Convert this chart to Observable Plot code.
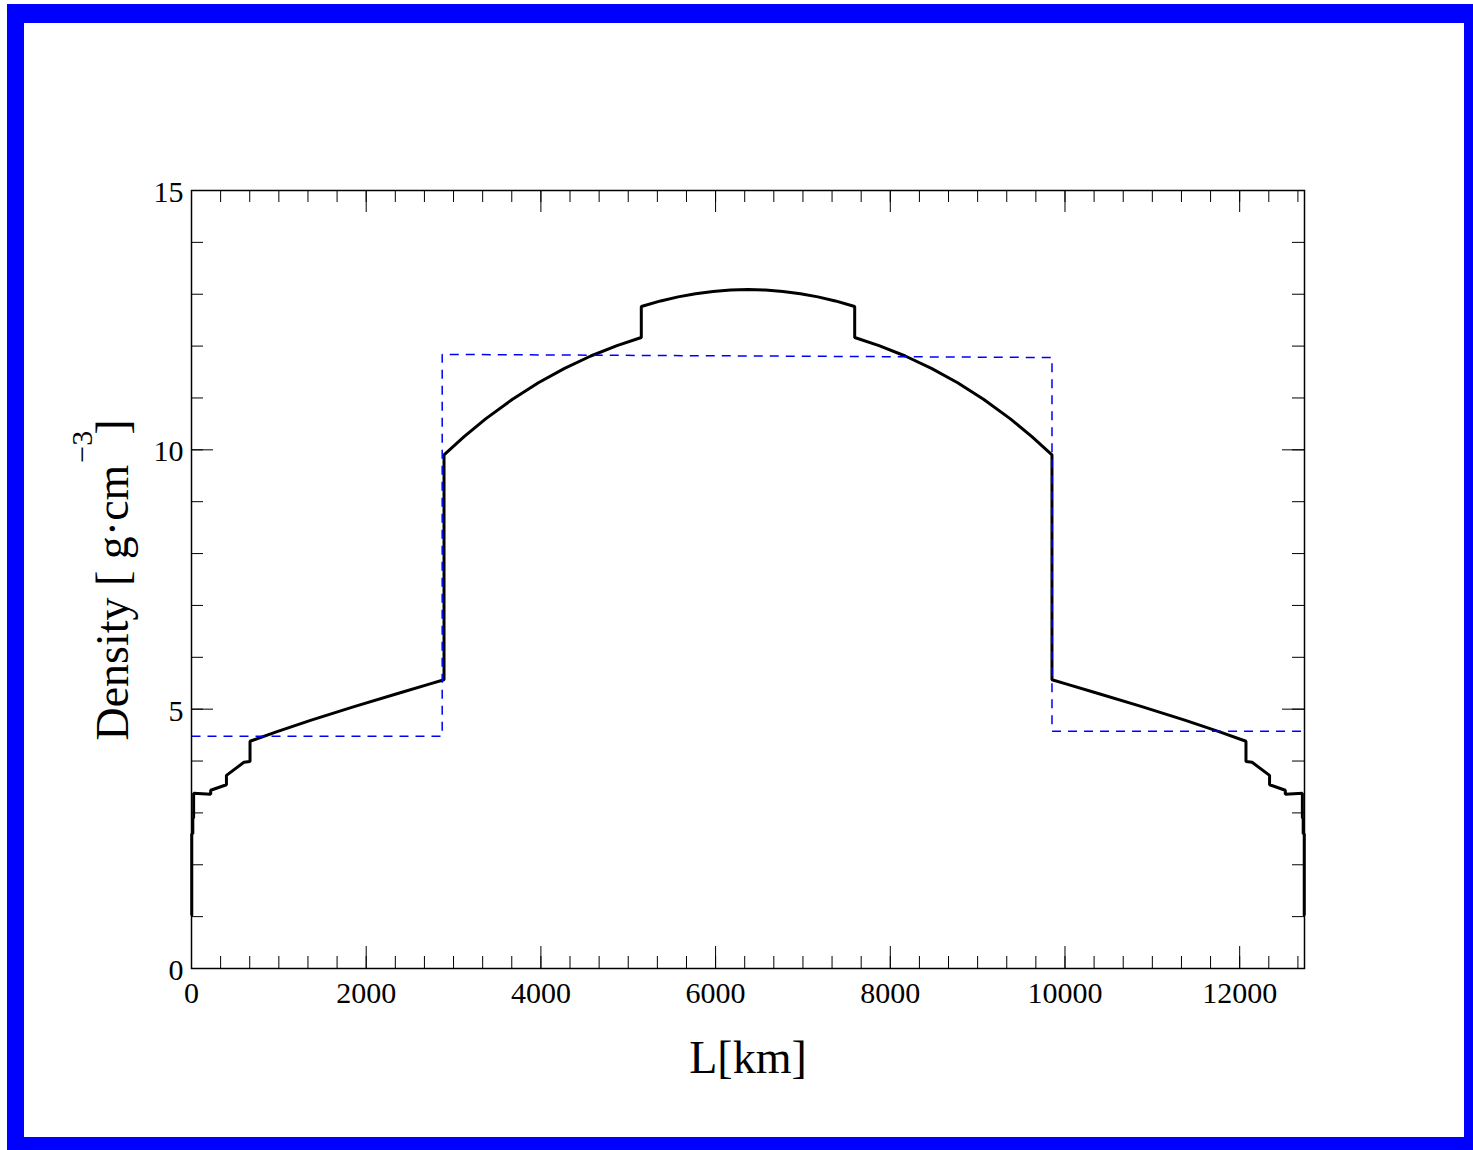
<!DOCTYPE html>
<html><head><meta charset="utf-8">
<script src="https://cdn.jsdelivr.net/npm/d3@7"></script>
<script src="https://cdn.jsdelivr.net/npm/@observablehq/plot@0.6"></script>
<style>
body{margin:0;background:#fff;}
#wrap{position:relative;width:1473px;height:1150px;overflow:hidden;background:#fff;}
#border{position:absolute;left:7px;top:4px;width:1466px;height:1146px;box-sizing:border-box;border-style:solid;border-color:#0000ff;border-width:19px 9px 13px 17px;pointer-events:none;}
#chart{position:absolute;left:0;top:0;}
</style></head><body>
<div id="wrap"><div id="chart"></div><div id="border"></div></div>
<script>
// PREM-like density along an Earth diameter (L in km, density in g/cm^3)
const premL = [0,3,3,15,15,24.4,24.4,220,220,400,400,600,670,670,971,1371,1871,2371,2741,2891,2891,3121,3371,3671,3971,4271,4571,4871,5149.5,5149.5,5371,5571,5771,5971,6171,6371,6571,6771,6971,7171,7371,7592.5,7592.5,7871,8171,8471,8771,9071,9371,9621,9851,9851,10001,10371,10871,11371,11771,12072,12072,12142,12342,12342,12522,12522,12717.6,12717.6,12727,12727,12739,12739,12742];
const premDensity = [1.02,1.02,2.6,2.6,2.9,2.9,3.381,3.360,3.436,3.543,3.724,3.976,3.992,4.381,4.563,4.790,5.055,5.307,5.492,5.567,9.904,10.255,10.602,10.971,11.293,11.571,11.809,12.010,12.166,12.764,12.871,12.949,13.010,13.054,13.080,13.089,13.080,13.054,13.010,12.949,12.871,12.764,12.166,12.010,11.809,11.571,11.293,10.971,10.602,10.255,9.904,5.567,5.492,5.307,5.055,4.790,4.563,4.381,3.992,3.976,3.724,3.543,3.436,3.360,3.381,2.9,2.9,2.6,2.6,1.02,1.02];
// averaged (dashed blue) profile
const avgL = [0,2870,2870,9851,9851,12742];
const avgDensity = [4.48,4.48,11.84,11.78,4.575,4.575];
// ticks
const xTickLabels = [0,2000,4000,6000,8000,10000,12000];
const yTickLabels = [0,5,10,15];
const xMinor = d3.range(0, 12742, 2000/6);
const yMinor = d3.range(0, 15.01, 1);

const W = 1473, H = 1150, mL = 191, mR = 169, mT = 190, mB = 182;
const pw = W - mL - mR, ph = H - mT - mB;
const premIdx = d3.range(premL.length);
const avgIdx = d3.range(avgL.length);

const chart = Plot.plot({
  width: W, height: H,
  marginLeft: mL, marginRight: mR, marginTop: mT, marginBottom: mB,
  style: {fontFamily: "'Liberation Serif','Times New Roman',serif", fontSize: "30px", color: "black", background: "transparent"},
  x: {domain: [0, 12742]},
  y: {domain: [0, 15]},
  marks: [
    // inward ticks
    Plot.tickX(xMinor, {x: d => d, insetTop: ph - 12, stroke: "black", strokeWidth: 1}),
    Plot.tickX(xMinor, {x: d => d, insetBottom: ph - 12, stroke: "black", strokeWidth: 1}),
    Plot.tickX(xTickLabels, {x: d => d, insetTop: ph - 22, stroke: "black", strokeWidth: 1}),
    Plot.tickX(xTickLabels, {x: d => d, insetBottom: ph - 22, stroke: "black", strokeWidth: 1}),
    Plot.tickY(yMinor, {y: d => d, insetRight: pw - 12, stroke: "black", strokeWidth: 1}),
    Plot.tickY(yMinor, {y: d => d, insetLeft: pw - 12, stroke: "black", strokeWidth: 1}),
    Plot.tickY(yTickLabels, {y: d => d, insetRight: pw - 22, stroke: "black", strokeWidth: 1}),
    Plot.tickY(yTickLabels, {y: d => d, insetLeft: pw - 22, stroke: "black", strokeWidth: 1}),
    Plot.axisX(xTickLabels, {tickSize: 0, tickPadding: 13, tickFormat: d3.format("d"), label: null}),
    Plot.axisY(yTickLabels, {tickSize: 0, tickPadding: 8, dy: 2, tickFormat: d3.format("d"), label: null}),
    Plot.line(premIdx, {x: i => premL[i], y: i => premDensity[i], stroke: "black", strokeWidth: 3, strokeLinejoin: "miter", strokeLinecap: "butt"}),
    Plot.line(avgIdx, {x: i => avgL[i], y: i => avgDensity[i], stroke: "#0000ff", strokeWidth: 1.5, strokeDasharray: "9,7", strokeLinejoin: "miter", strokeLinecap: "butt"}),
    Plot.frame({stroke: "black", strokeWidth: 1.5})
  ]
});
document.getElementById("chart").appendChild(chart);

const svg = d3.select(chart);
svg.append("text")
  .attr("x", 748).attr("y", 1073)
  .attr("text-anchor", "middle")
  .attr("font-size", 46)
  .attr("fill", "black")
  .text("L[km]");

const yt = svg.append("text")
  .attr("transform", "translate(128,580) rotate(-90)")
  .attr("text-anchor", "middle")
  .attr("font-size", 46)
  .attr("fill", "black");
yt.append("tspan").text("Density [ g\u00B7cm");
yt.append("tspan").attr("font-size", 30).attr("dy", -36).attr("dx", 2).text("\u22123");
yt.append("tspan").attr("dy", 36).attr("dx", -4).text("]");
</script>
</body></html>
